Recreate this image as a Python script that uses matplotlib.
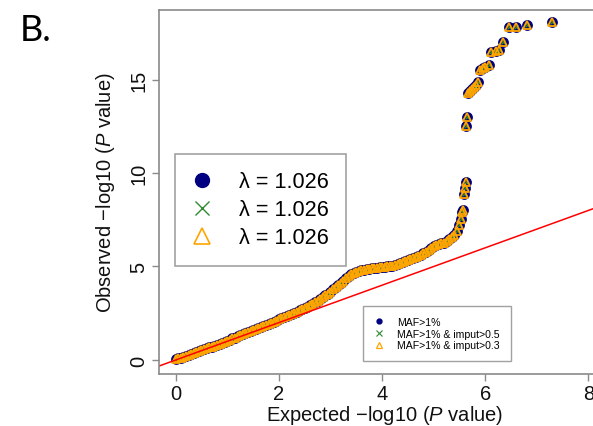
import numpy as np
import matplotlib.pyplot as plt
from matplotlib.lines import Line2D

plt.rcParams['font.family'] = ['Liberation Sans', 'DejaVu Sans']
plt.rcParams['mathtext.fontset'] = 'custom'
plt.rcParams['mathtext.rm'] = 'Liberation Sans'
plt.rcParams['mathtext.it'] = 'Liberation Sans:italic'

# QQ plot values: expected vs observed -log10(P)
expected = [0.00, 0.05, 0.10, 0.15, 0.20, 0.25, 0.30, 0.35, 0.40, 0.45,
            0.50, 0.55, 0.60, 0.65, 0.70, 0.75, 0.80, 0.85, 0.90, 0.95,
            1.00, 1.05, 1.10, 1.15, 1.20, 1.25, 1.30, 1.35, 1.40, 1.45,
            1.50, 1.55, 1.60, 1.65, 1.70, 1.75, 1.80, 1.85, 1.90, 1.95,
            2.00, 2.05, 2.10, 2.15, 2.20, 2.25, 2.30, 2.35, 2.40, 2.45,
            2.50, 2.55, 2.60, 2.65, 2.70, 2.75, 2.80, 2.85, 2.90, 2.95,
            3.00, 3.05, 3.10, 3.15, 3.20, 3.25, 3.30, 3.35, 3.40, 3.45,
            3.50, 3.55, 3.60, 3.65, 3.70, 3.75, 3.80, 3.85, 3.90, 3.95,
            4.00, 4.05, 4.10, 4.15, 4.20, 4.25, 4.30, 4.35, 4.40, 4.45,
            4.50, 4.55, 4.60, 4.65, 4.70, 4.75, 4.80, 4.85, 4.90, 4.95,
            5.00, 5.05, 5.10, 5.15, 5.20, 5.25, 5.30, 5.35, 5.40, 5.45,
            5.50, 5.53, 5.55,
            5.56, 5.58, 5.60, 5.62, 5.63, 5.65, 5.67, 5.70, 5.74, 5.78,
            5.82, 5.86, 5.90, 5.95, 6.00, 6.08, 6.12, 6.20, 6.27, 6.35,
            6.45, 6.60, 6.81, 7.30]
observed = [0.05, 0.08, 0.12, 0.17, 0.22, 0.27, 0.32, 0.37, 0.42, 0.47,
            0.52, 0.57, 0.62, 0.67, 0.72, 0.77, 0.82, 0.87, 0.93, 0.98,
            1.04, 1.09, 1.15, 1.20, 1.26, 1.31, 1.37, 1.42, 1.48, 1.53,
            1.59, 1.64, 1.70, 1.75, 1.81, 1.87, 1.93, 1.99, 2.05, 2.11,
            2.17, 2.23, 2.29, 2.35, 2.41, 2.47, 2.53, 2.59, 2.65, 2.71,
            2.78, 2.85, 2.92, 3.00, 3.08, 3.17, 3.26, 3.35, 3.45, 3.55,
            3.66, 3.77, 3.88, 4.00, 4.12, 4.25, 4.38, 4.49, 4.58, 4.65,
            4.70, 4.75, 4.80, 4.83, 4.86, 4.88, 4.90, 4.92, 4.94, 4.96,
            4.97, 4.98, 5.00, 5.02, 5.04, 5.08, 5.12, 5.17, 5.22, 5.27,
            5.33, 5.38, 5.44, 5.49, 5.55, 5.62, 5.70, 5.78, 5.87, 5.97,
            6.08, 6.16, 6.22, 6.25, 6.28, 6.35, 6.45, 6.56, 6.70, 6.90,
            7.20, 7.55, 7.90,
            8.00, 8.86, 9.18, 9.50, 12.5, 13.0, 14.3, 14.4, 14.5, 14.6,
            14.7, 14.85, 15.5, 15.6, 15.65, 15.8, 16.45, 16.55, 16.6, 17.0,
            17.8, 17.8, 17.93, 18.05]

lambda_labels = ['λ = 1.026', 'λ = 1.026', 'λ = 1.026']
set_labels = ['MAF>1%', 'MAF>1% & imput>0.5', 'MAF>1% & imput>0.3']

navy = '#000080'
green = '#2e8b2e'
orange = '#ffa500'
grey = '#8a8a8a'

fig = plt.figure(figsize=(5.93, 4.27), dpi=100)
ax = fig.add_axes([159 / 593, 52 / 427, 451 / 593, 364 / 427])
ax.set_xlim(-0.3236, 8.417)
ax.set_ylim(-0.749, 18.717)

ax.plot(expected, observed, 'o', color=navy, markersize=7.8, markeredgewidth=0)
ax.plot(expected, observed, 'x', color=green, markersize=3, markeredgewidth=0.8)
ax.plot(expected, observed, '^', markerfacecolor='none', markeredgecolor=orange,
        markersize=6.2, markeredgewidth=1.3)
ax.axline((0, 0), slope=1, color='red', lw=1.1)

ax.set_xticks([0, 2, 4, 6, 8])
ax.set_yticks([0, 5, 10, 15])
ax.tick_params(labelsize=14.5, length=5, width=1, color=grey, labelcolor='#111111', pad=2.5)
plt.setp(ax.get_yticklabels(), rotation=90, va='center')
for s in ['left', 'bottom', 'top']:
    ax.spines[s].set_color(grey)
    ax.spines[s].set_linewidth(1.2)
ax.spines['right'].set_visible(False)

ax.set_xlabel('Expected $-$log10 ($P$ value)', fontsize=14.5, color='#111111', labelpad=0)
ax.set_ylabel('Observed $-$log10 ($P$ value)', fontsize=14.5, color='#111111', labelpad=9)

h1 = [Line2D([], [], ls='none', marker='o', color=navy, markersize=10),
      Line2D([], [], ls='none', marker='x', color=green, markersize=10, markeredgewidth=1),
      Line2D([], [], ls='none', marker='^', markerfacecolor='none', markeredgecolor=orange,
             markersize=11, markeredgewidth=1.2)]
leg1 = fig.legend(h1, lambda_labels, loc='upper left', bbox_to_anchor=(175 / 593, 1 - 155 / 427),
                  borderaxespad=0, fontsize=15.6, frameon=True, fancybox=False,
                  edgecolor=grey, borderpad=0.8, handlelength=0.9, handletextpad=1.25,
                  labelspacing=0.32)
leg1.get_frame().set_linewidth(1.2)

h2 = [Line2D([], [], ls='none', marker='o', color=navy, markersize=3.5),
      Line2D([], [], ls='none', marker='x', color=green, markersize=4, markeredgewidth=0.8),
      Line2D([], [], ls='none', marker='^', markerfacecolor='none', markeredgecolor=orange,
             markersize=5, markeredgewidth=0.9)]
leg2 = fig.legend(h2, set_labels, loc='upper left', bbox_to_anchor=(363 / 593, 1 - 307 / 427),
                  borderaxespad=0, fontsize=7.6, frameon=True, fancybox=False,
                  edgecolor=grey, borderpad=1.05, handlelength=0.9, handletextpad=1.3,
                  labelspacing=0.15)
leg2.get_frame().set_linewidth(1.0)

fig.text(20 / 593, 1 - 41 / 427, 'B.', fontsize=26, family='Lato', va='baseline')

fig.savefig('out.png', dpi=100)
